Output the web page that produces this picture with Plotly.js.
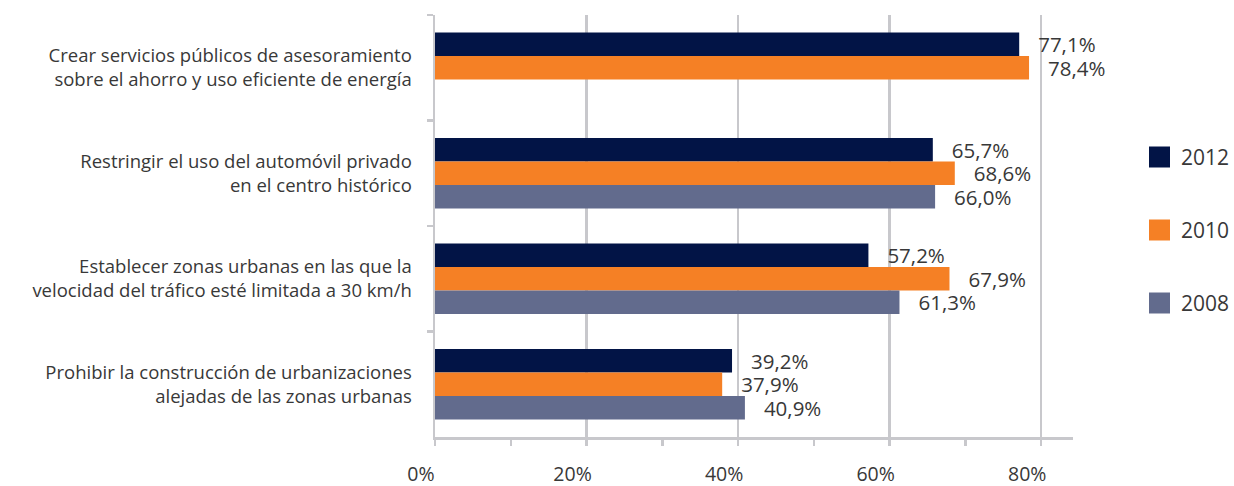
<!DOCTYPE html>
<html><head><meta charset="utf-8">
<script src="https://cdn.plot.ly/plotly-3.0.1.min.js"></script>
<style>html,body{margin:0;padding:0;background:#fff}#chart{width:1234px;height:486px}</style>
</head><body><div id="chart"></div>
<script>
const categories = [
  "Crear servicios públicos de asesoramiento<br>sobre el ahorro y uso eficiente de energía",
  "Restringir el uso del automóvil privado<br>en el centro histórico",
  "Establecer zonas urbanas en las que la<br>velocidad del tráfico esté limitada a 30 km/h",
  "Prohibir la construcción de urbanizaciones<br>alejadas de las zonas urbanas"
];
const seriesNames = ["2012", "2010", "2008"];
const values2012 = [77.1, 65.7, 57.2, 39.2];
const values2010 = [78.4, 68.6, 67.9, 37.9];
const values2008 = [null, 66.0, 61.3, 40.9];
const colors = ["#021446", "#f58025", "#626b8d"];

const allValues = [values2012, values2010, values2008];
const fmt = v => v == null ? "" : "\u00a0\u00a0\u00a0" + v.toFixed(1).replace(".", ",") + "%";
const FONT = "Open Sans, Noto Sans, sans-serif";
const TXT = "#383838";

const traces = allValues.map((vals, i) => ({
  type: "bar", orientation: "h",
  name: seriesNames[i], y: categories, x: vals,
  marker: {color: colors[i]},
  text: vals.map(fmt), textposition: "outside", cliponaxis: false,
  constraintext: "none",
  textfont: {family: FONT, size: 20.5, color: TXT},
  hoverinfo: "x+name", showlegend: false
}));

// custom legend (layout shapes/annotations)
const shapes = [], annotations = [];
const plotL = 435, plotR = 1073, plotT = 15, plotB = 437;
const px = x => (x - plotL) / (plotR - plotL);
const py = y => (plotB - y) / (plotB - plotT);
const legY = [157, 230, 303];
seriesNames.forEach((n, i) => {
  shapes.push({type: "rect", xref: "paper", yref: "paper",
    x0: px(1149), x1: px(1170), y0: py(legY[i] + 10.5), y1: py(legY[i] - 10.5),
    fillcolor: colors[i], line: {width: 0}});
  annotations.push({xref: "paper", yref: "paper", x: px(1179), y: py(legY[i]),
    xanchor: "left", yanchor: "middle", showarrow: false, text: n,
    font: {family: FONT, size: 21, color: TXT}});
});

const layout = {
  width: 1234, height: 486,
  margin: {l: plotL, r: 1234 - plotR, t: plotT, b: 486 - plotB},
  paper_bgcolor: "#fff", plot_bgcolor: "#fff",
  barmode: "group", bargap: 0.33, bargroupgap: 0,
  showlegend: false,
  font: {family: FONT, size: 18.5, color: TXT},
  xaxis: {
    range: [0, 84.2], dtick: 20, tick0: 0, ticksuffix: "%",
    showgrid: true, gridcolor: "#c8c8cc", gridwidth: 2.5,
    showline: true, linecolor: "#c8c8cc", linewidth: 2.5,
    ticks: "outside", ticklen: 6, tickwidth: 2.5, tickcolor: "#c8c8cc",
    minor: {dtick: 10, tick0: 0, ticks: "outside", ticklen: 6, tickwidth: 2.5, tickcolor: "#c8c8cc", showgrid: false},
    zeroline: false,
    tickfont: {family: FONT, size: 19.5, color: TXT},
    ticklabelstandoff: 12, ticklabelshift: -14
  },
  yaxis: {
    type: "category", autorange: "reversed",
    showline: true, linecolor: "#c8c8cc", linewidth: 2.5,
    ticks: "outside", ticklen: 6, tickwidth: 2.5, tickcolor: "#c8c8cc",
    tickson: "boundaries", showgrid: false, zeroline: false,
    tickfont: {family: FONT, size: 18.5, color: TXT},
    ticklabelstandoff: 17
  },
  shapes: shapes, annotations: annotations
};

Plotly.newPlot("chart", traces, layout, {displayModeBar: false, staticPlot: true});
</script>
</body></html>
